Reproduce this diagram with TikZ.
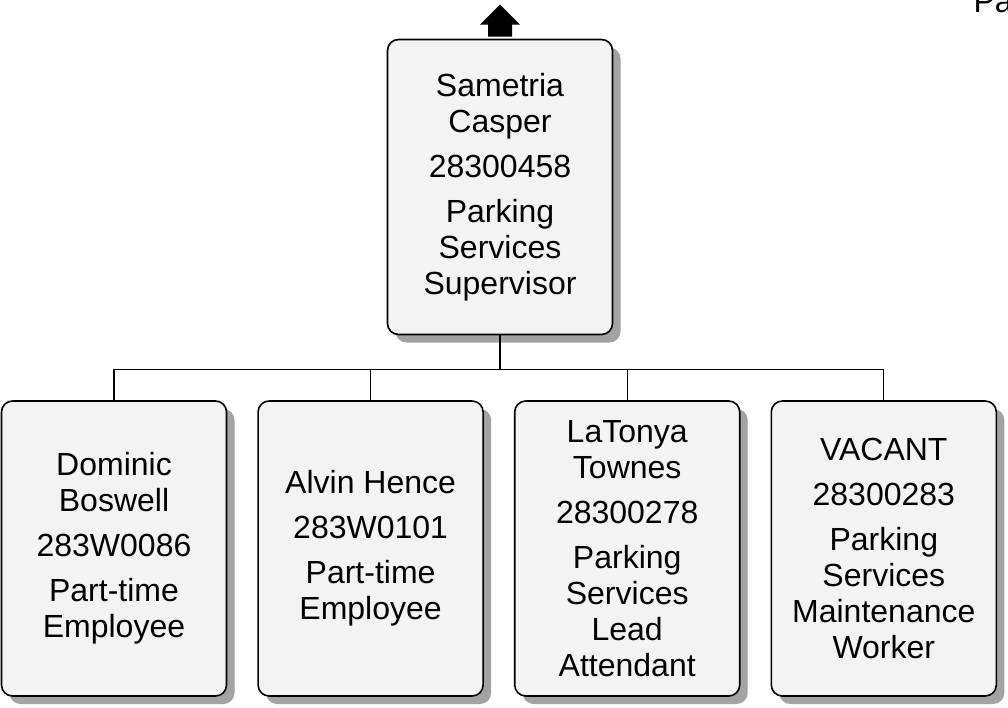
\documentclass[tikz,border=0pt]{standalone}
\usepackage{fontspec}
\setmainfont{Liberation Sans}
\usetikzlibrary{positioning,calc,shadows}
\definecolor{boxfill}{HTML}{F3F3F3}
\definecolor{shadowgray}{HTML}{A3A3A3}
\tikzset{
    org box/.style = {
        draw,
        line width=1.6pt,
        rounded corners=11pt,
        fill=boxfill,
        minimum width=225pt,
        minimum height=295pt,
        align=center,
        inner sep=0pt,
        font=\fontsize{32}{36}\selectfont,
        drop shadow={shadow xshift=8pt, shadow yshift=-8pt, fill=shadowgray, opacity=1},
        },
    org line/.style = {
        draw,
        line width=1.3pt,
        },
}

\begin{document}
\begin{tikzpicture}[x=1pt,y=-1pt]
            \useasboundingbox (0,0) rectangle (1008,708);
            \clip (0,0) rectangle (1008,708);

            \node[anchor=base west, font=\fontsize{32}{36}\selectfont] (page) at (970,13) {Page};

            \node[org box] (sametria) at (500,187)
                {Sametria\\Casper\\[9pt]28300458\\[9pt]Parking\\Services\\Supervisor};
            \node[org box] (dominic) at (114,548.5)
                {Dominic\\Boswell\\[9pt]283W0086\\[9pt]Part-time\\Employee};
            \node[org box, right=30pt of dominic] (alvin)
                {Alvin Hence\\[9pt]283W0101\\[9pt]Part-time\\Employee};
            \node[org box, right=30pt of alvin] (latonya)
                {LaTonya\\Townes\\[9pt]28300278\\[9pt]Parking\\Services\\Lead\\Attendant};
            \node[org box, right=30pt of latonya] (vacant)
                {VACANT\\[9pt]28300283\\[9pt]Parking\\Services\\Maintenance\\Worker};

            % up arrow above the top box
            \fill ($(sametria.north)+(-20,-14)$) -- ($(sametria.north)+(0,-34)$)
                -- ($(sametria.north)+(20,-14)$) -- ($(sametria.north)+(12,-14)$)
                -- ($(sametria.north)+(12,-2)$) -- ($(sametria.north)+(-12,-2)$)
                -- ($(sametria.north)+(-12,-14)$) -- cycle;

            \coordinate (bus) at ($(sametria.south)+(0,34)$);
            \path[org line] (sametria.south) -- (bus);
            \path[org line] (dominic.north) |- (bus) -| (vacant.north);
            \path[org line] (alvin.north) -- (alvin.north |- bus);
            \path[org line] (latonya.north) -- (latonya.north |- bus);
        \end{tikzpicture}
\end{document}
